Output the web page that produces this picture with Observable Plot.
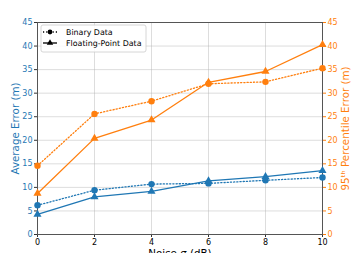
<!DOCTYPE html>
<html>
<head>
<meta charset="utf-8">
<script src="https://cdn.jsdelivr.net/npm/d3@7"></script>
<script src="https://cdn.jsdelivr.net/npm/@observablehq/plot@0.6"></script>
<style>
  html, body { margin: 0; padding: 0; background: #fff; }
  #chart svg { display: block; }
</style>
</head>
<body>
<div id="chart"></div>
<script>
const noise = [0, 2, 4, 6, 8, 10];
const avgBinary = [6.2, 9.4, 10.7, 10.85, 11.5, 12.1];
const avgFloat = [4.25, 8.0, 9.15, 11.4, 12.3, 13.55];
const p95Binary = [14.6, 25.6, 28.3, 32.0, 32.4, 35.3];
const p95Float = [8.7, 20.4, 24.3, 32.3, 34.6, 40.3];
const yTicks = [0, 5, 10, 15, 20, 25, 30, 35, 40, 45];
const xTicks = [0, 2, 4, 6, 8, 10];
const legendLabels = ["Binary Data", "Floating-Point Data"];

const BLUE = "#1f77b4";
const ORANGE = "#ff7f0e";

function rows(vals, series, kind) {
  return noise.map((x, i) => ({x, y: vals[i], series, kind}));
}
const dAB = rows(avgBinary, "avg", "binary");
const dAF = rows(avgFloat, "avg", "float");
const dPB = rows(p95Binary, "p95", "binary");
const dPF = rows(p95Float, "p95", "float");

const dotted = "1.2,2";

const plot = Plot.plot({
  width: 354,
  height: 253,
  marginLeft: 37,
  marginRight: 32,
  marginTop: 22,
  marginBottom: 19,
  style: {fontFamily: "DejaVu Sans", fontSize: "8px", background: "#fff", overflow: "visible"},
  x: {domain: [0, 10]},
  y: {domain: [0, 45]},
  marks: [
    Plot.gridX(xTicks, {stroke: "#b0b0b0", strokeOpacity: 0.55, strokeWidth: 0.8}),
    Plot.gridY(yTicks, {stroke: "#b0b0b0", strokeOpacity: 0.55, strokeWidth: 0.8}),
    Plot.axisX(xTicks, {tickSize: 3, tickPadding: 1.5, stroke: "#333", fill: "#000",
      label: "Noise σ (dB)", labelAnchor: "center", labelArrow: "none", labelOffset: 22.5}),
    Plot.axisY(yTicks, {anchor: "left", tickSize: 3, tickPadding: 2, stroke: "#333", color: BLUE, fill: BLUE,
      label: "Average Error (m)", labelAnchor: "center", labelArrow: "none", labelOffset: 26}),
    Plot.axisY(yTicks, {anchor: "right", tickSize: 3, tickPadding: 2, stroke: ORANGE, color: ORANGE, fill: ORANGE,
      label: "95ᵗʰ Percentile Error (m)", labelAnchor: "center", labelArrow: "none", labelOffset: 26}),
    Plot.frame({stroke: "#555", strokeWidth: 1}),
    Plot.line(dPB, {x: "x", y: "y", stroke: ORANGE, strokeWidth: 1.3, strokeDasharray: dotted}),
    Plot.line(dPF, {x: "x", y: "y", stroke: ORANGE, strokeWidth: 1.3}),
    Plot.line(dAB, {x: "x", y: "y", stroke: BLUE, strokeWidth: 1.3, strokeDasharray: dotted}),
    Plot.line(dAF, {x: "x", y: "y", stroke: BLUE, strokeWidth: 1.3}),
    Plot.dot(dPB, {x: "x", y: "y", symbol: "circle", r: 3.2, fill: ORANGE}),
    Plot.dot(dPF, {x: "x", y: "y", symbol: "triangle", r: 3, fill: ORANGE}),
    Plot.dot(dAB, {x: "x", y: "y", symbol: "circle", r: 3.2, fill: BLUE}),
    Plot.dot(dAF, {x: "x", y: "y", symbol: "triangle", r: 3, fill: BLUE})
  ]
});
document.getElementById("chart").appendChild(plot);

const svg = d3.select(plot);
svg.selectAll("[aria-label='x-axis label'] text, [aria-label='y-axis label'] text").style("font-size", "10.3px");

// Legend
const legendItems = [
  {label: legendLabels[0], dash: dotted, symbol: d3.symbolCircle, size: 18},
  {label: legendLabels[1], dash: null, symbol: d3.symbolTriangle, size: 18}
];
const lg = svg.append("g")
  .attr("font-family", "DejaVu Sans").attr("font-size", "7.9px").attr("text-anchor", "start");
lg.append("rect").attr("x", 41).attr("y", 25).attr("width", 105).attr("height", 27)
  .attr("rx", 2).attr("fill", "#fff").attr("fill-opacity", 0.85).attr("stroke", "#ccc").attr("stroke-width", 0.8);
legendItems.forEach((it, i) => {
  const y = 32 + i * 11;
  const ln = lg.append("line").attr("x1", 43).attr("x2", 57).attr("y1", y).attr("y2", y)
    .attr("stroke", "#000").attr("stroke-width", 1.3).attr("fill", "none");
  if (it.dash) ln.attr("stroke-dasharray", it.dash);
  lg.append("path").attr("transform", `translate(50,${y})`)
    .attr("d", d3.symbol(it.symbol, it.size)()).attr("fill", "#000").attr("stroke", "none");
  lg.append("text").attr("x", 66).attr("y", y).attr("dy", "0.35em")
    .attr("fill", "#000").attr("stroke", "none").attr("text-anchor", "start").text(it.label);
});
</script>
</body>
</html>
